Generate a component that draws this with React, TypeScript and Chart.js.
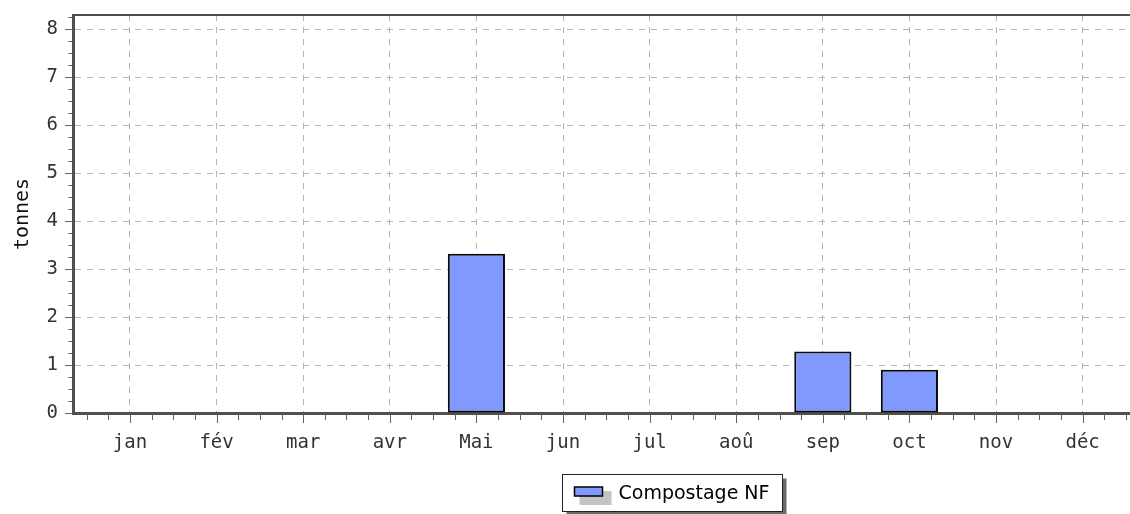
import React, { useEffect, useRef } from "react";
import { Chart, registerables } from "chart.js";

Chart.register(...registerables);

const months = ["jan", "fév", "mar", "avr", "Mai", "jun", "jul", "aoû", "sep", "oct", "nov", "déc"];
const compostageNF = [0, 0, 0, 0, 3.32, 0, 0, 0, 1.28, 0.9, 0, 0];
const yTickValues = [0, 1, 2, 3, 4, 5, 6, 7, 8];
const seriesLabel = "Compostage NF";
const yTitle = "tonnes";

const GRID = "#b4b4b4";
const AXIS = "#505050";
const BAR_FILL = "#8099FF";

export default function App() {
  const ref = useRef<HTMLCanvasElement>(null);

  useEffect(() => {
    document.body.style.margin = "0";
    const canvas = ref.current!;

    const extras = {
      id: "extras",
      afterDraw(chart: any) {
        const { ctx, chartArea: a } = chart;
        const x = chart.scales.x;
        const y = chart.scales.y;
        ctx.save();
        // top frame line
        ctx.strokeStyle = AXIS;
        ctx.lineWidth = 2;
        ctx.beginPath();
        ctx.moveTo(a.left, a.top);
        ctx.lineTo(a.right, a.top);
        ctx.stroke();
        // minor + major tick marks
        ctx.strokeStyle = "#606060";
        ctx.lineWidth = 1;
        ctx.beginPath();
        for (let k = 0; k * 0.25 <= y.max + 1e-9; k++) {
          const v = k * 0.25;
          const py = Math.round(y.getPixelForValue(v)) + 0.5;
          const major = k % 4 === 0;
          ctx.moveTo(a.left - (major ? 8 : 4.5), py);
          ctx.lineTo(a.left - 1, py);
        }
        for (let k = -4; k * 0.25 <= x.max + 1e-9; k++) {
          const v = k * 0.25;
          if (v < x.min) continue;
          const px = Math.round(x.getPixelForValue(v)) + 0.5;
          const major = k % 4 === 0;
          ctx.moveTo(px, a.bottom + 1);
          ctx.lineTo(px, a.bottom + (major ? 10 : 7));
        }
        ctx.stroke();

        // legend
        const ds = chart.data.datasets[0];
        ctx.font = "19px 'DejaVu Sans'";
        const tw = ctx.measureText(ds.label).width;
        const padL = 12, sw = 28, gap = 16, padR = 13;
        const w = Math.round(padL + sw + gap + tw + padR);
        const h = 37;
        const cx = 672;
        const left = Math.round(cx - w / 2) + 0.5;
        const top = 474.5;
        ctx.fillStyle = "#6a6a6a";
        ctx.fillRect(left + 4, top + 4, w, h);
        ctx.fillStyle = "#ffffff";
        ctx.fillRect(left, top, w, h);
        ctx.strokeStyle = "#222";
        ctx.lineWidth = 1;
        ctx.strokeRect(left, top, w, h);
        const sx = left + padL;
        const sy = top + 12.5;
        ctx.fillStyle = "#c4c4c4";
        ctx.fillRect(sx + 5, sy + 4, 32, 14);
        ctx.fillStyle = ds.backgroundColor;
        ctx.fillRect(sx, sy, sw, 9);
        ctx.strokeStyle = "#000";
        ctx.lineWidth = 1.5;
        ctx.strokeRect(sx, sy, sw, 9);
        ctx.fillStyle = "#000";
        ctx.textBaseline = "alphabetic";
        ctx.textAlign = "left";
        ctx.fillText(ds.label, sx + sw + gap, top + 24);
        ctx.restore();
      },
    };

    const tickFont = { family: "'DejaVu Sans Mono'", size: 19 };

    const chart = new Chart(canvas, {
      type: "bar",
      data: {
        datasets: [
          {
            label: seriesLabel,
            data: compostageNF.map((v, i) => ({ x: i, y: v })),
            backgroundColor: BAR_FILL,
            borderColor: "#0a0a0a",
            borderWidth: 2,
            borderSkipped: false,
            barPercentage: 0.66,
            categoryPercentage: 1,
          },
        ],
      },
      options: {
        animation: false,
        responsive: false,
        layout: { padding: { top: 15, left: 0, right: 0, bottom: 0 } },
        plugins: { legend: { display: false }, tooltip: { enabled: false } },
        scales: {
          x: {
            type: "linear",
            min: -0.658,
            max: 11.547,
            offset: false,
            afterBuildTicks: (s: any) => {
              s.ticks = months.map((_, i) => ({ value: i }));
            },
            afterFit: (s: any) => {
              s.height = 101;
              s.paddingLeft = 0;
              s.paddingRight = 0;
            },
            ticks: {
              callback: (v: any) => months[v as number],
              autoSkip: false,
              maxRotation: 0,
              padding: 19,
              color: "#333",
              font: tickFont,
            },
            grid: { color: GRID, lineWidth: 1, drawTicks: false, offset: false },
            border: { display: true, color: AXIS, width: 3, dash: [6, 6] },
          },
          y: {
            type: "linear",
            min: 0,
            max: 8.3,
            afterBuildTicks: (s: any) => {
              s.ticks = yTickValues.map((v) => ({ value: v }));
            },
            afterFit: (s: any) => {
              s.width = 73;
              s.paddingTop = 0;
              s.paddingBottom = 0;
            },
            ticks: { padding: 15, color: "#333", font: tickFont },
            grid: { color: GRID, lineWidth: 1, drawTicks: false },
            border: { display: true, color: AXIS, width: 3, dash: [6, 6] },
            title: {
              display: true,
              text: yTitle,
              color: "#111",
              font: { family: "'DejaVu Sans Mono'", size: 20 },
              padding: { top: 11, bottom: 0 },
            },
          },
        },
      },
      plugins: [extras],
    });
    return () => chart.destroy();
  }, []);

  return (
    <div style={{ width: 1130, height: 514, position: "relative", background: "#fff" }}>
      <canvas ref={ref} width={1130} height={514} style={{ display: "block" }} />
    </div>
  );
}
